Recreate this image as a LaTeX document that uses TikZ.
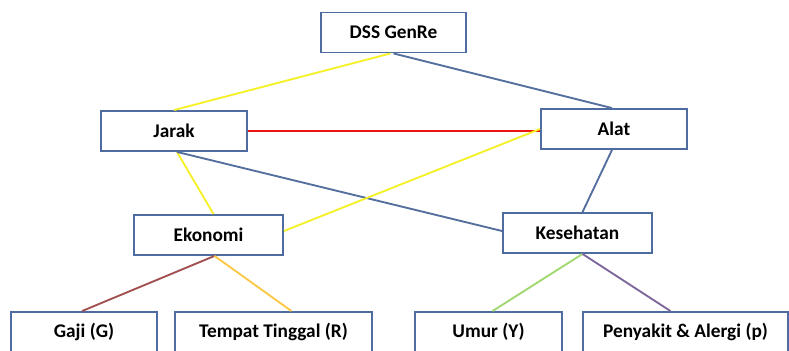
\documentclass[tikz,border=0pt]{standalone}
\usepackage{fontspec}
\setmainfont{Carlito}
\usetikzlibrary{calc}
\definecolor{boxblue}{RGB}{79,108,160}
\definecolor{linkblue}{RGB}{84,110,158}
\definecolor{linkyellow}{RGB}{245,240,40}
\definecolor{linkred}{RGB}{235,20,20}
\definecolor{linkbrown}{RGB}{160,80,78}
\definecolor{linkgold}{RGB}{250,200,70}
\definecolor{linkgreen}{RGB}{160,215,110}
\definecolor{linkpurple}{RGB}{125,102,155}
\newcommand{\pxl}{0.75pt}
\tikzset{
every picture/.style={x=0.75pt, y=-0.75pt},
%%%%%%%%%%  Node styles
box/.style={draw=boxblue, line width=1.4pt, fill=white, inner sep=1pt,
            minimum height=30pt, minimum width=#1,
            font=\fontsize{14.5}{16}\selectfont\bfseries},
%%%% different line styles:
link/.style={line width=1.4pt},
ylw/.style={link, linkyellow},
blu/.style={link, linkblue}
}

\begin{document}
\begin{tikzpicture}
\clip (0,0) rectangle (789,350);
% levels
\node[box=108.75pt] (dss) at (393.5,32.5) {DSS GenRe};
\node[box=109.5pt] (jarak) at (174,131) {Jarak};
\node[box=109.5pt] (alat) at (614,129) {Alat};
\node[box=111.75pt] (ekonomi) at (208.5,235) {Ekonomi};
\node[box=111.75pt] (kesehatan) at (577.5,233) {Kesehatan};
\node[box=109.5pt] (gaji) at (84,332) {Gaji (G)};
\node[box=147.75pt] (tempat) at (273.5,332) {Tempat Tinggal (R)};
\node[box=110.25pt] (umur) at (488.5,332) {Umur (Y)};
\node[box=153.75pt] (penyakit) at (685.5,332) {Penyakit \& Alergi (p)};
% links
\draw[ylw] ([xshift=-3*\pxl]dss.south) -- (jarak.north);
\draw[blu] (dss.south) -- ([xshift=-2*\pxl]alat.north);
\draw[link, linkred] (jarak.east) -- (jarak.east -| alat.west);
\draw[ylw] ([xshift=3*\pxl]jarak.south) -- ([xshift=5*\pxl]ekonomi.north);
\draw[blu] ([xshift=3*\pxl]jarak.south) -- ([yshift=2*\pxl]kesehatan.west);
\draw[ylw] (alat.west) -- ([yshift=4*\pxl]ekonomi.east);
\draw[blu] ([xshift=-2*\pxl]alat.south) -- ([xshift=5*\pxl]kesehatan.north);
\draw[link, linkbrown] ([xshift=6*\pxl]ekonomi.south) -- ([xshift=-2*\pxl]gaji.north);
\draw[link, linkgold] ([xshift=6*\pxl]ekonomi.south) -- ([xshift=18*\pxl]tempat.north);
\draw[link, linkgreen] ([xshift=5*\pxl]kesehatan.south) -- ([xshift=4*\pxl]umur.north);
\draw[link, linkpurple] ([xshift=5*\pxl]kesehatan.south) -- ([xshift=-15*\pxl]penyakit.north);
\end{tikzpicture}
\end{document}
